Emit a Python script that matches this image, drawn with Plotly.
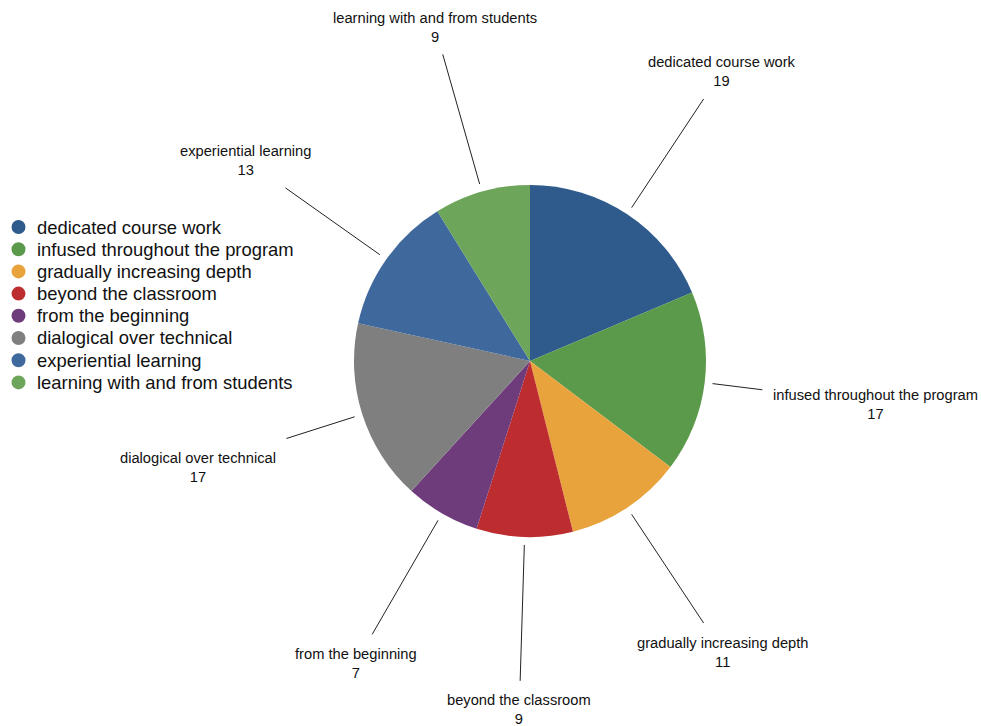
import math
import plotly.graph_objects as go

categories = ["dedicated course work", "infused throughout the program", "gradually increasing depth",
              "beyond the classroom", "from the beginning", "dialogical over technical",
              "experiential learning", "learning with and from students"]
values = [19, 17, 11, 9, 7, 17, 13, 9]
colors = ["#2E5A8C", "#5B9A4A", "#E8A33D", "#BD2D30", "#6E3B7B", "#7F7F7F", "#3F699D", "#6DA55B"]

W, H = 981, 726
CX, CY, R = 530, 361, 176
LABEL_R = 348
LINE_START_R = 184
LABEL_FONT = 14.7
LEGEND_FONT = 18.4


def px(x):
    return x / W


def py(y):
    return 1 - y / H


fig = go.Figure()
fig.add_trace(go.Pie(
    labels=categories, values=values, sort=False, direction="clockwise", rotation=0,
    marker=dict(colors=colors, line=dict(width=0)), textinfo="none", hoverinfo="skip",
    showlegend=False,
    domain=dict(x=[px(CX - R), px(CX + R)], y=[py(CY + R), py(CY - R)]),
))

shapes, annotations = [], []
total = sum(values)
cum = 0
for cat, v in zip(categories, values):
    mid = (cum + v / 2) / total * 2 * math.pi
    cum += v
    ox, oy = math.sin(mid), -math.cos(mid)
    tx, ty = CX + LABEL_R * ox, CY + LABEL_R * oy
    tw = len(cat) * 0.49 * LABEL_FONT
    hw, hh = tw / 2 + 5, 28
    ux, uy = -ox, -oy
    t = min(hw / abs(ux) if abs(ux) > 1e-9 else 1e9, hh / abs(uy) if abs(uy) > 1e-9 else 1e9)
    ex, ey = tx + t * ux, ty + t * uy
    sx, sy = CX + LINE_START_R * ox, CY + LINE_START_R * oy
    shapes.append(dict(type="line", xref="paper", yref="paper", x0=px(sx), y0=py(sy), x1=px(ex), y1=py(ey),
                       line=dict(color="#222", width=1)))
    annotations.append(dict(xref="paper", yref="paper", x=px(tx), y=py(ty + 1), xanchor="center", yanchor="middle",
                            text=f"{cat}<br>{v}", showarrow=False,
                            font=dict(size=LABEL_FONT, color="#111", family="Liberation Sans, Arial, sans-serif")))

# legend
LEG_Y0, LEG_DY = 227, 22.2
for i, (cat, c) in enumerate(zip(categories, colors)):
    yy = LEG_Y0 + i * LEG_DY
    shapes.append(dict(type="circle", xref="paper", yref="paper", x0=px(11.5), x1=px(25.5),
                       y0=py(yy + 7), y1=py(yy - 7), fillcolor=c, line=dict(width=0)))
    annotations.append(dict(xref="paper", yref="paper", x=px(35), y=py(yy), xanchor="left", yanchor="middle",
                            text=cat, showarrow=False,
                            font=dict(size=LEGEND_FONT, color="#111", family="Liberation Sans, Arial, sans-serif")))

fig.update_layout(width=W, height=H, margin=dict(l=0, r=0, t=0, b=0), paper_bgcolor="white",
                  plot_bgcolor="white", shapes=shapes, annotations=annotations, showlegend=False)
fig.write_html("out.html")
